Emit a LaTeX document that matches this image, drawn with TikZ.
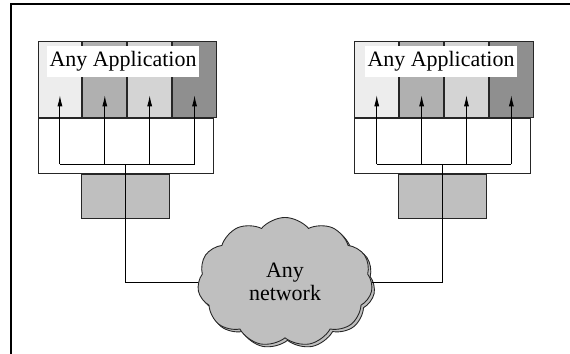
\documentclass[tikz,border=0pt]{standalone}
\usepackage{fontspec}
\setmainfont{Liberation Serif}
\usepackage{tikz}
\usetikzlibrary{positioning, arrows.meta, calc, shapes.symbols, shadows}
\definecolor{ink}{gray}{0.15}
\definecolor{cellA}{gray}{0.93}
\definecolor{cellB}{gray}{0.69}
\definecolor{cellC}{gray}{0.83}
\definecolor{cellD}{gray}{0.56}
\definecolor{stub}{gray}{0.75}

\begin{document}
\begin{tikzpicture}[
  x=0.02cm, y=-0.02cm,
  node distance=0pt,
  font=\fontsize{12.5}{13}\selectfont,
  cell/.style={draw=ink, line width=.5pt, minimum width=0.88cm, minimum height=1.53cm, inner sep=0pt},
  appbox/.style={draw=ink, line width=.5pt, fill=white, minimum width=3.52cm, minimum height=1.09cm, inner sep=0pt},
  portbox/.style={draw=ink, line width=.5pt, fill=stub, minimum width=1.76cm, minimum height=0.89cm, inner sep=0pt},
  lbl/.style={fill=white, inner xsep=1.5pt, minimum height=0.5cm},
  netcloud/.style={cloud, cloud puffs=11, cloud puff arc=100, draw=ink, line width=.5pt,
                   fill=stub, minimum width=3.5cm, minimum height=2.1cm, align=center,
                   copy shadow={shadow xshift=0.05cm, shadow yshift=-0.05cm}},
  ar/.style={-{Latex[length=2.2mm, width=1mm]}, draw=black, line width=.5pt},
  wire/.style={draw=black, line width=.5pt},
]
\useasboundingbox (0,0) rectangle (570,354);
\draw[line width=1.1pt] (11,354) -- (11,4) -- (570,4);

% left host
\node[cell, fill=cellA, anchor=north west] (l1) at (37.5,41) {};
\node[cell, fill=cellB, right=of l1] (l2) {};
\node[cell, fill=cellC, right=of l2] (l3) {};
\node[cell, fill=cellD, right=of l3] (l4) {};
\node[appbox, anchor=north west] (lbase) at (l1.south west) {};
\node[portbox, below=of lbase] (lport) {};
\node[lbl] (llbl) at (123,61.5) {Any Application};

% right host
\node[cell, fill=cellA, anchor=north west] (r1) at (354.3,41) {};
\node[cell, fill=cellB, right=of r1] (r2) {};
\node[cell, fill=cellC, right=of r2] (r3) {};
\node[cell, fill=cellD, right=of r3] (r4) {};
\node[appbox, anchor=north west] (rbase) at (r1.south west) {};
\node[portbox, below=of rbase] (rport) {};
\node[lbl] (rlbl) at (441,61.5) {Any Application};

\node[netcloud] (net) at (285,282) {Any\\network};

\coordinate (lhub) at ($(lbase.south)+(0,-9.7)$);
\coordinate (rhub) at ($(rbase.south)+(0,-9.7)$);

\draw[wire] (lhub -| l1) -- (lhub -| l4);
\draw[ar] (lhub -| l1) -- ($(l1.center)+(0,15.7)$);
\draw[ar] (lhub -| l2) -- ($(l2.center)+(0,15.7)$);
\draw[ar] (lhub -| l3) -- ($(l3.center)+(0,15.7)$);
\draw[ar] (lhub -| l4) -- ($(l4.center)+(0,15.7)$);
\draw[wire] (lhub) |- (net.west);

\draw[wire] (rhub -| r1) -- (rhub -| r4);
\draw[ar] (rhub -| r1) -- ($(r1.center)+(0,15.7)$);
\draw[ar] (rhub -| r2) -- ($(r2.center)+(0,15.7)$);
\draw[ar] (rhub -| r3) -- ($(r3.center)+(0,15.7)$);
\draw[ar] (rhub -| r4) -- ($(r4.center)+(0,15.7)$);
\draw[wire] (rhub) |- (net.east);
\end{tikzpicture}
\end{document}
